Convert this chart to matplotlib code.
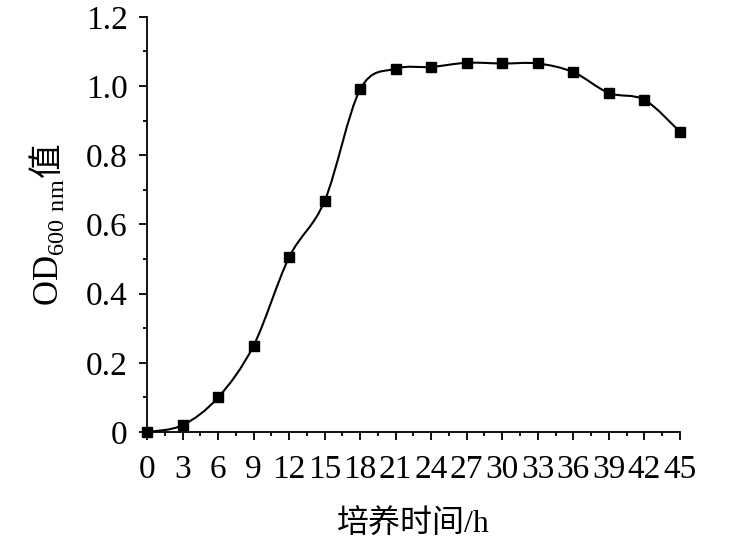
import matplotlib
matplotlib.use("Agg")
import matplotlib.pyplot as plt
from matplotlib.path import Path
from matplotlib.patches import PathPatch
from matplotlib.ticker import MultipleLocator

plt.rcParams['font.family'] = ['Liberation Serif', 'Noto Sans CJK SC']
plt.rcParams['mathtext.fontset'] = 'custom'
plt.rcParams['mathtext.rm'] = 'Liberation Serif'
plt.rcParams['mathtext.sf'] = 'Noto Sans CJK SC'

# culture time (h) and OD600 readings
hours = [0, 3, 6, 9, 12, 15, 18, 21, 24, 27, 30, 33, 36, 39, 42, 45]
od600 = [0.0, 0.02, 0.10, 0.25, 0.505, 0.668, 0.99, 1.05, 1.055, 1.067,
         1.065, 1.065, 1.04, 0.98, 0.96, 0.868]
xticks = list(range(0, 46, 3))
yticks = [0, 0.2, 0.4, 0.6, 0.8, 1.0, 1.2]
ylabels = ['0', '0.2', '0.4', '0.6', '0.8', '1.0', '1.2']


def smooth_path(xs, ys, t=1 / 6):
    # bezier segments through the points, like a spreadsheet "smoothed line"
    pts = list(zip(xs, ys))
    verts = [pts[0]]
    codes = [Path.MOVETO]
    n = len(pts)
    for i in range(n - 1):
        p0 = pts[i - 1] if i > 0 else pts[i]
        p1 = pts[i]
        p2 = pts[i + 1]
        p3 = pts[i + 2] if i + 2 < n else pts[i + 1]
        c1 = (p1[0] + (p2[0] - p0[0]) * t, p1[1] + (p2[1] - p0[1]) * t)
        c2 = (p2[0] - (p3[0] - p1[0]) * t, p2[1] - (p3[1] - p1[1]) * t)
        verts += [c1, c2, p2]
        codes += [Path.CURVE4] * 3
    return Path(verts, codes)


fig = plt.figure(figsize=(7.35, 5.59), dpi=100)
ax = fig.add_axes([0.2, 0.227, 0.725, 0.743])

ax.add_patch(PathPatch(smooth_path(hours, od600), fill=False, lw=1.5,
                       color='black', clip_on=False))
ax.plot(hours, od600, ls='none', marker='s', ms=7, color='black', clip_on=False)

ax.set_xlim(0, 45)
ax.set_ylim(0, 1.2)
ax.set_xticks(xticks)
ax.set_xticklabels([str(v) for v in xticks])
ax.xaxis.set_minor_locator(MultipleLocator(1.5))
ax.set_yticks(yticks)
ax.set_yticklabels(ylabels)
ax.yaxis.set_minor_locator(MultipleLocator(0.1))

for s in ['top', 'right']:
    ax.spines[s].set_visible(False)
for s in ['left', 'bottom']:
    ax.spines[s].set_linewidth(1.3)

ax.tick_params(which='major', direction='out', length=6, width=1.3,
               labelsize=24, pad=8)
ax.tick_params(which='minor', direction='out', length=3, width=1.3)
ax.tick_params(axis='x', which='major', pad=10)

ax.set_xlabel('培养时间/h', fontsize=23, labelpad=18)
ax.set_ylabel(r'OD$_{\mathrm{600\ nm}}\mathsf{值}$', fontsize=25, labelpad=14)

fig.savefig('out.png', dpi=100)
